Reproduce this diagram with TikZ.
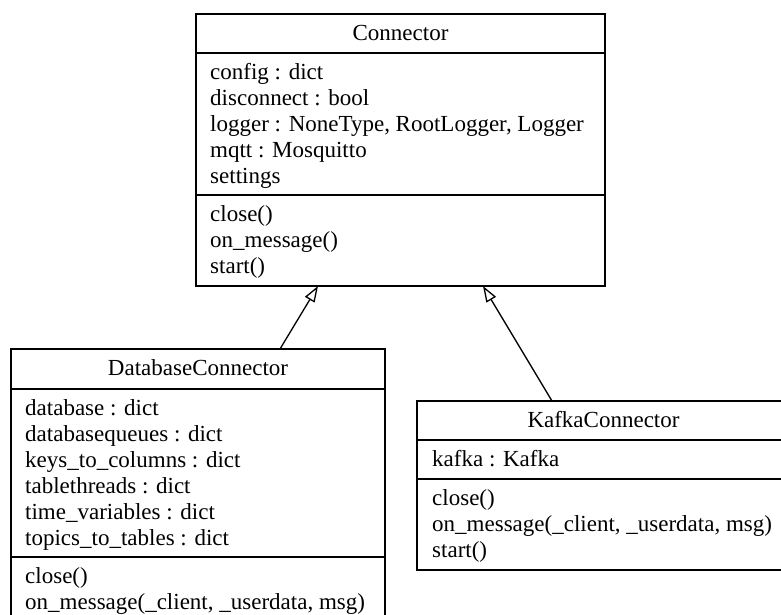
\documentclass[tikz,border=0pt]{standalone}
\usepackage{fontspec}
\setmainfont{Liberation Serif}
\usetikzlibrary{arrows.meta,calc}
\begin{document}
\begin{tikzpicture}[x=1pt,y=-1pt,
  classbox/.style={draw=black, line width=1.3pt, inner sep=0pt, outer sep=0pt, anchor=north west, fill=none},
  divider/.style={draw=black, line width=1.3pt},
  txt/.style={anchor=base west, inner sep=0pt, font=\fontsize{23}{26}\selectfont},
  ttl/.style={anchor=base, inner sep=0pt, font=\fontsize{23}{26}\selectfont},
  inherit/.style={draw=black, line width=1.3pt, -{Triangle[open, length=16pt, width=11pt]}}]
\useasboundingbox (0,0) rectangle (781,614);
\clip (0,0) rectangle (781,614);
% Connector
\node[classbox, minimum width=409pt, minimum height=272pt] (conn) at (196,14) {};
\draw[divider] ($(conn.north west)+(0,39)$) -- ($(conn.north east)+(0,39)$);
\draw[divider] ($(conn.north west)+(0,181)$) -- ($(conn.north east)+(0,181)$);
\node[ttl] (connT) at (400.5,40.5) {Connector};
\node[txt] (ca1) at (210,79.5) {config : dict};
\node[txt] (ca2) at (210,105.5) {disconnect : bool};
\node[txt] (ca3) at (210,131.5) {logger : NoneType, RootLogger, Logger};
\node[txt] (ca4) at (210,157.5) {mqtt : Mosquitto};
\node[txt] (ca5) at (210,183.5) {settings};
\node[txt] (cm1) at (210,221.5) {close()};
\node[txt] (cm2) at (210,247.5) {on\_message()};
\node[txt] (cm3) at (210,273.5) {start()};
% DatabaseConnector
\node[classbox, minimum width=374pt, minimum height=320pt] (db) at (11,349) {};
\draw[divider] ($(db.north west)+(0,40)$) -- ($(db.north east)+(0,40)$);
\draw[divider] ($(db.north west)+(0,208)$) -- ($(db.north east)+(0,208)$);
\node[ttl] (dbT) at (198,375.5) {DatabaseConnector};
\node[txt] (da1) at (25,415.5) {database : dict};
\node[txt] (da2) at (25,441.5) {databasequeues : dict};
\node[txt] (da3) at (25,467.5) {keys\_to\_columns : dict};
\node[txt] (da4) at (25,493.5) {tablethreads : dict};
\node[txt] (da5) at (25,519.5) {time\_variables : dict};
\node[txt] (da6) at (25,545.5) {topics\_to\_tables : dict};
\node[txt] (dm1) at (25,583.5) {close()};
\node[txt] (dm2) at (25,609.5) {on\_message(\_client, \_userdata, msg)};
% KafkaConnector
\node[classbox, minimum width=373pt, minimum height=169pt] (kafka) at (417,401) {};
\draw[divider] ($(kafka.north west)+(0,39)$) -- ($(kafka.north east)+(0,39)$);
\draw[divider] ($(kafka.north west)+(0,78)$) -- ($(kafka.north east)+(0,78)$);
\node[ttl] (kT) at (603.5,427.5) {KafkaConnector};
\node[txt] (ka1) at (432,466.5) {kafka : Kafka};
\node[txt] (km1) at (432,505.5) {close()};
\node[txt] (km2) at (432,531.5) {on\_message(\_client, \_userdata, msg)};
\node[txt] (km3) at (432,557.5) {start()};
% inheritance
\coordinate (c1) at ($(conn.south west)+(122,0)$);
\coordinate (c2) at ($(conn.south west)+(287,0)$);
\coordinate (d1) at ($(db.north west)+(269,0)$);
\coordinate (k1) at ($(kafka.north west)+(135,0)$);
\draw[inherit] (d1) -- (c1);
\draw[inherit] (k1) -- (c2);
\end{tikzpicture}
\end{document}
